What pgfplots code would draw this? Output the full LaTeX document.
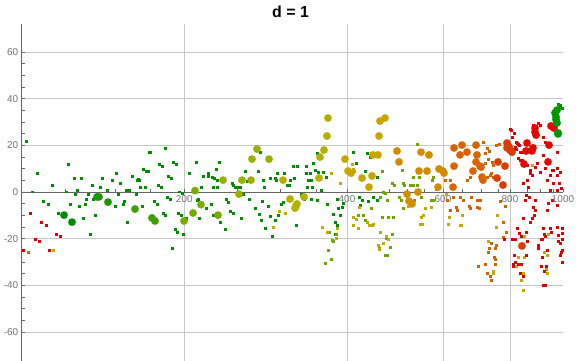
\documentclass[border=0pt]{standalone}
\usepackage{fontspec}
\setmainfont{Liberation Sans}
\usepackage{pgfplots}
\pgfplotsset{compat=1.18}
\definecolor{sG}{RGB}{0,140,0}
\definecolor{sOl}{RGB}{110,165,0}
\definecolor{sY}{RGB}{190,170,0}
\definecolor{sO}{RGB}{210,100,0}
\definecolor{sR}{RGB}{220,0,0}
\definecolor{bG1}{RGB}{0,140,0}
\definecolor{bG2}{RGB}{30,150,0}
\definecolor{bG3}{RGB}{60,160,0}
\definecolor{bG4}{RGB}{120,170,0}
\definecolor{bY1}{RGB}{155,175,0}
\definecolor{bY2}{RGB}{180,175,0}
\definecolor{bY3}{RGB}{200,165,0}
\definecolor{bO1}{RGB}{210,140,0}
\definecolor{bO2}{RGB}{215,100,0}
\definecolor{bO3}{RGB}{220,60,0}
\definecolor{bR}{RGB}{225,10,0}
\definecolor{bGR}{RGB}{0,150,0}
\pgfplotsset{
  sm/.style={only marks, color=#1, mark=square*, mark size=0.95bp, mark options={line width=0.1bp, fill=#1, draw=#1}},
  bg/.style={only marks, color=#1, mark=*, mark size=3.8bp, mark options={line width=0.1bp, fill=#1, draw=#1}},
}
\begin{document}
\begin{tikzpicture}
\begin{axis}[
  scale only axis, width=541.3bp, height=337bp,
  xmin=21.7, xmax=563, ymin=-72.4, ymax=72,
  axis x line*=middle, axis y line*=left,
  clip=false,
  xtick={184.3,347,443,510}, xticklabels={200,400,600,800},
  extra x ticks={563}, extra x tick labels={1000},
  extra x tick style={grid=none},
  minor xtick={65,115,150,237,280,316,389,407,424,462,481,498,527,540,553},
  ytick={-60,-40,-20,0,20,40,60}, minor y tick num=3,
  grid=major,
  major grid style={black!22, line width=0.8bp},
  axis line style={black!60, line width=0.9bp},
  tick style={black!60, line width=0.7bp},
  tick align=inside,
  major tick length=3bp, minor tick length=3bp,
  ticklabel style={font=\fontsize{10}{12}\selectfont, text=black!55},
  /pgf/number format/assume math mode=true,
]
% small dots
\addplot[sm=sG] coordinates {
(26,21.9) (37,8.1) (52,3.0) (68,12.0) (74,6.0) (81,6.0) (32,0.2) (66,0.2) (77,0.9) (92,3.0) (102,6.0) (100,2.1) (107,0.9) (112,5.1) (116,8.1) (120,3.9) (126,0.9) (129,0.9) (132,6.9) (137,5.1) (139,5.1) (140,2.1) (145,2.1) (143,9.9) (146,9.0) (148,9.0) (149,17.1) (150,17.1) (159,12.0) (162,11.1) (165,18.9) (168,6.9) (171,6.0) (158,3.0) (161,2.1) (173,12.9) (176,12.0) (179,0.2) (189,8.1) (196,12.9) (138,5.6)
(43,-3.9) (48,-5.1) (58,-9.0) (70,-5.1) (75,-0.9) (79,-6.0) (85,-5.1) (86,-3.0) (83,-11.1) (88,-0.9) (93,-3.0) (95,-9.9) (90,-18.0) (115,-6.0) (118,-0.9) (123,-5.1) (124,-3.9) (127,-12.9) (136,-0.9) (142,-6.0) (154,-3.9) (157,-5.1) (163,-9.0) (165,-9.9) (167,-2.1) (170,-3.0) (175,-15.9) (177,-17.1) (178,-9.0) (181,-9.9) (182,-0.4) (183,-18.0) (172,-24.0) (186,-11.1) (197,-3.4) (199,-11.1)
(198,-3.0) (193,0.9) (201,2.1) (203,6.9) (208,8.1) (208,6.9) (211,-5.1) (206,-6.9) (213,-9.9) (216,9.9) (212,6.4) (214,6.0) (217,5.1) (213,2.1) (217,2.1) (219,12.9) (220,-12.9) (225,-15.9) (226,-3.0) (228,-4.3) (230,-8.1) (233,-9.0) (232,3.9) (235,2.1) (233,3.0) (238,2.1) (240,2.1) (241,-11.1) (243,-0.9) (245,9.0) (249,-3.0) (247,4.7) (250,15.0) (255,-6.9) (258,9.0) (260,17.1) (262,-3.9) (263,5.1) (259,-9.4) (264,2.1) (261,-12.0) (265,-15.4) (270,6.0) (275,6.0) (276,5.1) (268,-6.0) (270,-10.3) (272,-18.9) (275,-12.0) (278,-9.9) (277,8.1) (281,-5.1) (283,-4.3) (284,8.1) (287,3.0) (289,3.0) (290,5.1) (294,6.0) (293,11.1) (297,11.1) (296,-14.1) (301,-0.9) (304,-3.0) (306,8.1) (310,8.1) (306,11.1) (308,5.1) (311,5.1) (311,-3.0) (307,2.1) (312,2.1) (313,12.4) (315,9.4) (318,8.6) (317,-3.4) (321,0.9) (317,16.7) (323,8.6) (326,6.4) (327,-5.1) (333,-9.4) (335,-12.9) (337,-14.1) (337,-3.0) (338,-6.9) (340,-9.9) (342,-6.4) (335,-18.0) (343,-4.7) (353,17.1) (356,12.4) (359,-2.1) (362,-3.4) (360,-5.6) (367,16.7) (365,9.0) (370,15.0) (374,16.7) (373,7.7) (377,6.4) (368,-3.9) (373,-2.1) (377,-3.4)
};
\addplot[sm=sOl] coordinates {
(329,-17.0) (336,-18.0) (333,-21.0) (332,-20.6) (328,-24.9) (331,-28.7) (325,-30.6) (358,-9.9) (363,-9.9) (365,-12.0) (371,-6.9) (392,-18.0) (379,-24.0) (385,-27.0) (387,-27.0) (382,9.0) (392,3.9) (394,3.0) (383,0) (385,-0.4) (380,-2.1) (387,-3.4) (402,9.4) (403,3.9) (404,3.0) (399,-2.1) (401,-3.4) (403,-6.9) (413,3.0) (410,3.0) (413,6.4) (417,20.6) (417,3.0) (419,6.4) (414,-3.4) (421,-2.1) (432,5.1) (433,6.4) (431,-3.4) (433,-3.4) (436,1.3) (382,-10.7) (388,-10.7) (393,-10.7) (386,-19.7) (390,-23.6)
};
\addplot[sm=sY] coordinates {
(53,-24.9) (273,-15.0) (279,-8.1) (285,-9.0) (331,8.1) (340,3.9) (352,12.0) (353,9.9) (354,9.0) (359,-6.4) (356,-11.6) (353,-10.7) (353,-14.1) (358,-15.4) (367,-12.9) (369,-14.1) (372,-14.1) (378,-22.7) (379,-24.4) (322,-15.0) (327,-17.1) (337,-15.4) (336,-19.7) (380,-17.1) (386,-18.9) (388,-20.1) (383,-21.9) (373,-13.7) (420,-13.7) (422,-13.7) (423,-9.9) (421,-10.7) (425,-6.9) (431,-6.4) (448,-13.7) (449,-10.7) (460,-14.1) (461,-14.1) (462,-9.9) (497,-9.9) (496,-15.0) (488,-21.0) (493,-33.9) (493,-34.7) (518,-27.9) (524,-27.9) (516,-31.7) (523,-34.7) (521,-37.7) (523,-42.0) (524,-18.9) (544,-25.7) (547,-27.0) (546,-33.0) (547,-34.7) (548,-18.0) (532,11.6) (446,-1.0) (408,-6.0)
};
\addplot[sm=sO] coordinates {
(28,-25.7) (491,-21.9) (496,-22.7) (495,-24.0) (489,-24.0) (488,-25.7) (494,-27.9) (495,-28.7) (495,-30.9) (478,-31.7) (485,-30.9) (487,-34.7) (490,-36.0) (491,-37.7) (506,-17.1) (503,-12.9) (503,-19.3) (483,21.4) (487,18.9) (489,17.6) (485,16.7) (488,14.1) (492,12.9) (493,11.6) (491,8.1) (493,6.4) (485,12.4) (487,6.4) (490,7.3) (496,20.1) (499,20.6) (445,5.1) (450,5.1) (447,-3.4) (450,-7.7) (456,-6.4) (457,-7.7) (453,-2.1) (460,-2.1) (463,-3.4) (467,5.1) (470,6.4) (471,-2.1) (469,-6.0) (470,-6.9) (477,-3.4) (480,-3.4) (477,-6.4) (479,-6.9) (500,-4.0) (505,-6.0)
};
\addplot[sm=sR] coordinates {
(30,-9.0) (41,-12.9) (46,-14.1) (35,-20.1) (39,-21.0) (56,-18.0) (60,-18.9) (23,-24.9) (49,-24.9)
(511,26.6) (514,25.3) (516,21.4) (518,20.6) (515,19.3) (522,13.7) (527,11.6) (530,8.1) (523,3.9) (527,5.1) (528,2.1) (526,-1.3) (529,-2.1) (525,-3.4) (535,-3.4) (533,-6.4) (535,-7.7) (523,-11.1) (530,-12.9) (532,-11.1) (534,-9.9) (517,-15.4) (519,-17.6) (548,-4.7) (552,-3.4) (547,-7.7) (557,-5.6) (543,-15.4) (550,-15.4) (557,-15.0) (558,-18.4) (562,-15.4) (562,-17.6) (545,10.3) (552,9.4) (557,7.3) (560,8.6) (547,5.1) (553,3.9) (559,3.9) (561,1.7) (550,0.9) (557,0.9) (510,27.0) (512,23.6) (517,21.0) (519,20.1) (514,18.4) (516,18.4) (520,17.1) (523,17.1) (518,14.6) (520,13.7) (533,28.7) (538,29.6) (540,28.7) (543,23.6) (545,21.4) (543,15.9) (557,17.1) (537,12.4) (535,10.7) (530,9.4) (532,7.3) (540,8.6) (550,7.3) (553,9.4) (557,10.3)
(504,-20.1) (512,-20.1) (515,-20.1) (521,-18.9) (526,-17.1) (527,-21.0) (514,-27.0) (526,-27.0) (515,-30.0) (513,-30.9) (513,-31.7) (518,-30.9) (521,-30.9) (520,-34.7) (523,-36.0) (538,-22.7) (538,-24.0) (544,-18.0) (545,-18.9) (551,-17.1) (541,-20.1) (542,-20.1) (547,-24.9) (542,-27.9) (558,-21.0) (562,-20.1) (560,-21.9) (562,-24.9) (561,-25.7) (560,-27.0) (562,-30.0) (541,-31.7) (546,-31.7) (544,-33.9) (543,-39.9) (545,-39.9)
};
\addplot[sm=bGR] coordinates {
(558,37.7) (560,37.3) (562,36.0) (559,36.5)
};
% large dots
\addplot[bg=bG1] coordinates {(64,-9.9) (72,-12.9)};
\addplot[bg=bG2] coordinates {(97,-2.1) (99,-2.1) (108,-4.3)};
\addplot[bg=bG3] coordinates {(135,-7.3) (152,-11.1) (155,-12.4)};
\addplot[bg=bG4] coordinates {(184,-12.4) (193,-9.0) (195,0.6) (201,-5.4) (218,-9.9)};
\addplot[bg=bY1] coordinates {(223,5.1) (239,-0.9) (242,5.1) (251,5.1) (252,14.1) (257,18.4) (269,14.1)};
\addplot[bg=bY2] coordinates {(283,5.1) (290,-3.0) (295,-6.9) (297,-5.1) (296,-6.0) (304,-2.1) (319,6.0) (320,15.0) (324,18.0) (327,24.0) (328,31.7)};
\addplot[bg=bY3] coordinates {(345,14.1) (348,9.0) (351,8.1) (362,6.0) (369,2.1) (372,6.9) (373,15.9) (378,15.9) (379,24.0) (380,30.4) (385,31.7)};
\addplot[bg=bO1] coordinates {(397,17.6) (399,12.9) (407,-0.9) (409,-3.9) (412,-5.1) (418,0) (419,9.0) (421,17.1) (427,9.0) (429,15.9) (438,2.1) (439,9.9) (443,9.0) (444,8.1)};
\addplot[bg=bO2] coordinates {(453,2.1) (454,18.9) (454,11.1) (460,15.9) (462,20.1) (467,17.1) (473,9.0) (476,20.1) (477,15.9) (476,12.9) (480,11.1) (481,10.7) (482,6.4) (483,5.1)};
\addplot[bg=bO3] coordinates {(497,6.0) (498,12.9) (503,3.0) (505,11.1) (507,21.0) (507,18.9) (510,18.0) (509,19.5) (512,17.1) (522,-23.1)};
\addplot[bg=bR] coordinates {(527,21.0) (526,17.6) (532,17.6) (533,18.9) (524,12.0) (535,27.4) (535,25.7) (536,24.4) (551,28.3) (553,27.9) (554,27.4) (549,20.1) (548,12.9)};
\addplot[bg=bGR] coordinates {(555,33.9) (557,35.1) (556,32.1) (557,29.6) (558,24.9) (558,25.3) (556,31.0)};
\end{axis}
\node[font=\bfseries\fontsize{16}{18}\selectfont, anchor=base] at (268.8bp,343bp) {d = 1};
\pgfresetboundingbox
\useasboundingbox (-21.7bp,0) rectangle (554.3bp,361bp);
\end{tikzpicture}
\end{document}
